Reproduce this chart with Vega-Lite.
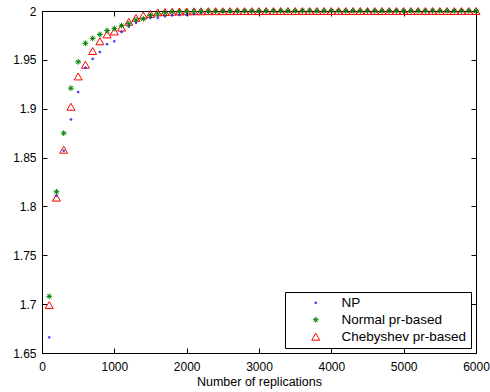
{
  "$schema": "https://vega.github.io/schema/vega-lite/v6.json",
  "width": 434,
  "height": 342,
  "autosize": {"type": "none"},
  "padding": {"left": 42, "top": 11, "right": 14, "bottom": 39},
  "background": "white",
  "config": {
    "font": "Liberation Sans",
    "view": {"stroke": "black", "strokeWidth": 1},
    "axis": {
      "grid": false,
      "domainColor": "black",
      "tickColor": "black",
      "tickSize": -5,
      "labelFlush": false,
      "labelColor": "black",
      "labelFont": "Liberation Sans",
      "labelFontSize": 12,
      "titleFont": "Liberation Sans",
      "titleFontSize": 12.5,
      "titleFontWeight": "normal",
      "titleColor": "black"
    }
  },
  "data": {"values": [
    {"n":100,"s":"NP","v":1.666},{"n":100,"s":"Normal pr-based","v":1.708},{"n":100,"s":"Chebyshev pr-based","v":1.699},
    {"n":200,"s":"NP","v":1.811},{"n":200,"s":"Normal pr-based","v":1.815},{"n":200,"s":"Chebyshev pr-based","v":1.809},
    {"n":300,"s":"NP","v":1.857},{"n":300,"s":"Normal pr-based","v":1.875},{"n":300,"s":"Chebyshev pr-based","v":1.858},
    {"n":400,"s":"NP","v":1.889},{"n":400,"s":"Normal pr-based","v":1.921},{"n":400,"s":"Chebyshev pr-based","v":1.902},
    {"n":500,"s":"NP","v":1.917},{"n":500,"s":"Normal pr-based","v":1.948},{"n":500,"s":"Chebyshev pr-based","v":1.933},
    {"n":600,"s":"NP","v":1.942},{"n":600,"s":"Normal pr-based","v":1.967},{"n":600,"s":"Chebyshev pr-based","v":1.945},
    {"n":700,"s":"NP","v":1.951},{"n":700,"s":"Normal pr-based","v":1.972},{"n":700,"s":"Chebyshev pr-based","v":1.959},
    {"n":800,"s":"NP","v":1.958},{"n":800,"s":"Normal pr-based","v":1.976},{"n":800,"s":"Chebyshev pr-based","v":1.969},
    {"n":900,"s":"NP","v":1.966},{"n":900,"s":"Normal pr-based","v":1.980},{"n":900,"s":"Chebyshev pr-based","v":1.976},
    {"n":1000,"s":"NP","v":1.969},{"n":1000,"s":"Normal pr-based","v":1.982},{"n":1000,"s":"Chebyshev pr-based","v":1.979},
    {"n":1100,"s":"NP","v":1.9785},{"n":1100,"s":"Normal pr-based","v":1.985},{"n":1100,"s":"Chebyshev pr-based","v":1.983},
    {"n":1200,"s":"NP","v":1.984},{"n":1200,"s":"Normal pr-based","v":1.987},{"n":1200,"s":"Chebyshev pr-based","v":1.989},
    {"n":1300,"s":"NP","v":1.988},{"n":1300,"s":"Normal pr-based","v":1.991},{"n":1300,"s":"Chebyshev pr-based","v":1.993},
    {"n":1400,"s":"NP","v":1.992},{"n":1400,"s":"Normal pr-based","v":1.992},{"n":1400,"s":"Chebyshev pr-based","v":1.9955},
    {"n":1500,"s":"NP","v":1.993},{"n":1500,"s":"Normal pr-based","v":1.9955},{"n":1500,"s":"Chebyshev pr-based","v":1.997},
    {"n":1600,"s":"NP","v":1.993},{"n":1600,"s":"Normal pr-based","v":1.997},{"n":1600,"s":"Chebyshev pr-based","v":1.9985},
    {"n":1700,"s":"NP","v":1.9945},{"n":1700,"s":"Normal pr-based","v":1.998},{"n":1700,"s":"Chebyshev pr-based","v":1.999},
    {"n":1800,"s":"NP","v":1.9955},{"n":1800,"s":"Normal pr-based","v":1.999},{"n":1800,"s":"Chebyshev pr-based","v":1.9993},
    {"n":1900,"s":"NP","v":1.996},{"n":1900,"s":"Normal pr-based","v":1.9992},{"n":1900,"s":"Chebyshev pr-based","v":1.9995},
    {"n":2000,"s":"NP","v":1.9962},{"n":2000,"s":"Normal pr-based","v":1.9994},{"n":2000,"s":"Chebyshev pr-based","v":1.9996},
    {"n":2100,"s":"NP","v":1.997},{"n":2100,"s":"Normal pr-based","v":1.9995},{"n":2100,"s":"Chebyshev pr-based","v":1.9997},
    {"n":2200,"s":"NP","v":1.998},{"n":2200,"s":"Normal pr-based","v":1.9996},{"n":2200,"s":"Chebyshev pr-based","v":1.9997},
    {"n":2300,"s":"NP","v":1.9985},{"n":2300,"s":"Normal pr-based","v":1.9997},{"n":2300,"s":"Chebyshev pr-based","v":1.9998},
    {"n":2400,"s":"NP","v":1.999},{"n":2400,"s":"Normal pr-based","v":1.9997},{"n":2400,"s":"Chebyshev pr-based","v":1.9998},
    {"n":2500,"s":"NP","v":1.9992},{"n":2500,"s":"Normal pr-based","v":1.9998},{"n":2500,"s":"Chebyshev pr-based","v":1.9998},
    {"n":2600,"s":"NP","v":1.9993},{"n":2600,"s":"Normal pr-based","v":1.9998},{"n":2600,"s":"Chebyshev pr-based","v":1.9999},
    {"n":2700,"s":"NP","v":1.9994},{"n":2700,"s":"Normal pr-based","v":1.9998},{"n":2700,"s":"Chebyshev pr-based","v":1.9999},
    {"n":2800,"s":"NP","v":1.9995},{"n":2800,"s":"Normal pr-based","v":1.9999},{"n":2800,"s":"Chebyshev pr-based","v":1.9999},
    {"n":2900,"s":"NP","v":1.9996},{"n":2900,"s":"Normal pr-based","v":1.9999},{"n":2900,"s":"Chebyshev pr-based","v":1.9999},
    {"n":3000,"s":"NP","v":1.9996},{"n":3000,"s":"Normal pr-based","v":1.9999},{"n":3000,"s":"Chebyshev pr-based","v":1.9999},
    {"n":3100,"s":"NP","v":1.9997},{"n":3100,"s":"Normal pr-based","v":1.9999},{"n":3100,"s":"Chebyshev pr-based","v":2.0},
    {"n":3200,"s":"NP","v":1.9997},{"n":3200,"s":"Normal pr-based","v":1.9999},{"n":3200,"s":"Chebyshev pr-based","v":2.0},
    {"n":3300,"s":"NP","v":1.9997},{"n":3300,"s":"Normal pr-based","v":2.0},{"n":3300,"s":"Chebyshev pr-based","v":2.0},
    {"n":3400,"s":"NP","v":1.9998},{"n":3400,"s":"Normal pr-based","v":2.0},{"n":3400,"s":"Chebyshev pr-based","v":2.0},
    {"n":3500,"s":"NP","v":1.9998},{"n":3500,"s":"Normal pr-based","v":2.0},{"n":3500,"s":"Chebyshev pr-based","v":2.0},
    {"n":3600,"s":"NP","v":1.9998},{"n":3600,"s":"Normal pr-based","v":2.0},{"n":3600,"s":"Chebyshev pr-based","v":2.0},
    {"n":3700,"s":"NP","v":1.9998},{"n":3700,"s":"Normal pr-based","v":2.0},{"n":3700,"s":"Chebyshev pr-based","v":2.0},
    {"n":3800,"s":"NP","v":1.9999},{"n":3800,"s":"Normal pr-based","v":2.0},{"n":3800,"s":"Chebyshev pr-based","v":2.0},
    {"n":3900,"s":"NP","v":1.9999},{"n":3900,"s":"Normal pr-based","v":2.0},{"n":3900,"s":"Chebyshev pr-based","v":2.0},
    {"n":4000,"s":"NP","v":1.9999},{"n":4000,"s":"Normal pr-based","v":2.0},{"n":4000,"s":"Chebyshev pr-based","v":2.0},
    {"n":4100,"s":"NP","v":1.9999},{"n":4100,"s":"Normal pr-based","v":2.0},{"n":4100,"s":"Chebyshev pr-based","v":2.0},
    {"n":4200,"s":"NP","v":1.9999},{"n":4200,"s":"Normal pr-based","v":2.0},{"n":4200,"s":"Chebyshev pr-based","v":2.0},
    {"n":4300,"s":"NP","v":1.9999},{"n":4300,"s":"Normal pr-based","v":2.0},{"n":4300,"s":"Chebyshev pr-based","v":2.0},
    {"n":4400,"s":"NP","v":1.9999},{"n":4400,"s":"Normal pr-based","v":2.0},{"n":4400,"s":"Chebyshev pr-based","v":2.0},
    {"n":4500,"s":"NP","v":2.0},{"n":4500,"s":"Normal pr-based","v":2.0},{"n":4500,"s":"Chebyshev pr-based","v":2.0},
    {"n":4600,"s":"NP","v":2.0},{"n":4600,"s":"Normal pr-based","v":2.0},{"n":4600,"s":"Chebyshev pr-based","v":2.0},
    {"n":4700,"s":"NP","v":2.0},{"n":4700,"s":"Normal pr-based","v":2.0},{"n":4700,"s":"Chebyshev pr-based","v":2.0},
    {"n":4800,"s":"NP","v":2.0},{"n":4800,"s":"Normal pr-based","v":2.0},{"n":4800,"s":"Chebyshev pr-based","v":2.0},
    {"n":4900,"s":"NP","v":2.0},{"n":4900,"s":"Normal pr-based","v":2.0},{"n":4900,"s":"Chebyshev pr-based","v":2.0},
    {"n":5000,"s":"NP","v":2.0},{"n":5000,"s":"Normal pr-based","v":2.0},{"n":5000,"s":"Chebyshev pr-based","v":2.0},
    {"n":5100,"s":"NP","v":2.0},{"n":5100,"s":"Normal pr-based","v":2.0},{"n":5100,"s":"Chebyshev pr-based","v":2.0},
    {"n":5200,"s":"NP","v":2.0},{"n":5200,"s":"Normal pr-based","v":2.0},{"n":5200,"s":"Chebyshev pr-based","v":2.0},
    {"n":5300,"s":"NP","v":2.0},{"n":5300,"s":"Normal pr-based","v":2.0},{"n":5300,"s":"Chebyshev pr-based","v":2.0},
    {"n":5400,"s":"NP","v":2.0},{"n":5400,"s":"Normal pr-based","v":2.0},{"n":5400,"s":"Chebyshev pr-based","v":2.0},
    {"n":5500,"s":"NP","v":2.0},{"n":5500,"s":"Normal pr-based","v":2.0},{"n":5500,"s":"Chebyshev pr-based","v":2.0},
    {"n":5600,"s":"NP","v":2.0},{"n":5600,"s":"Normal pr-based","v":2.0},{"n":5600,"s":"Chebyshev pr-based","v":2.0},
    {"n":5700,"s":"NP","v":2.0},{"n":5700,"s":"Normal pr-based","v":2.0},{"n":5700,"s":"Chebyshev pr-based","v":2.0},
    {"n":5800,"s":"NP","v":2.0},{"n":5800,"s":"Normal pr-based","v":2.0},{"n":5800,"s":"Chebyshev pr-based","v":2.0},
    {"n":5900,"s":"NP","v":2.0},{"n":5900,"s":"Normal pr-based","v":2.0},{"n":5900,"s":"Chebyshev pr-based","v":2.0},
    {"n":6000,"s":"NP","v":2.0},{"n":6000,"s":"Normal pr-based","v":2.0},{"n":6000,"s":"Chebyshev pr-based","v":2.0}
  ]},
  "layer": [
    {
      "mark": {"type": "point", "opacity": 0},
      "encoding": {
        "x": {"field": "n", "type": "quantitative", "scale": {"domain": [0, 6000], "nice": false, "zero": false},
              "axis": {"orient": "top", "labels": false, "title": null, "values": [0,1000,2000,3000,4000,5000,6000]}},
        "y": {"field": "v", "type": "quantitative", "scale": {"domain": [1.65, 2], "nice": false, "zero": false},
              "axis": {"orient": "right", "labels": false, "title": null, "values": [1.65,1.7,1.75,1.8,1.85,1.9,1.95,2]}}
      }
    },
    {
      "mark": {"type": "point", "filled": false, "strokeWidth": 1, "opacity": 1},
      "encoding": {
        "x": {"field": "n", "type": "quantitative", "scale": {"domain": [0, 6000], "nice": false, "zero": false},
              "axis": {"orient": "bottom", "title": "Number of replications", "format": "d", "labelPadding": 13, "titlePadding": 3,
                       "values": [0,1000,2000,3000,4000,5000,6000]}},
        "y": {"field": "v", "type": "quantitative", "scale": {"domain": [1.65, 2], "nice": false, "zero": false},
              "axis": {"orient": "left", "title": null, "format": "~g", "labelPadding": 11,
                       "values": [1.65,1.7,1.75,1.8,1.85,1.9,1.95,2]}},
        "color": {"field": "s", "type": "nominal",
                  "scale": {"domain": ["NP", "Normal pr-based", "Chebyshev pr-based"], "range": ["#0000ff", "#008000", "#ff0000"]},
                  "legend": {"title": null, "orient": "bottom-right", "offset": 5, "strokeColor": "black", "fillColor": "white",
                             "padding": 4, "cornerRadius": 0, "labelFont": "Liberation Sans", "labelFontSize": 13.5, "labelColor": "black",
                             "symbolOffset": 20, "labelOffset": 19, "rowPadding": 2, "symbolStrokeWidth": 1}},
        "shape": {"field": "s", "type": "nominal",
                  "scale": {"domain": ["NP", "Normal pr-based", "Chebyshev pr-based"],
                            "range": ["circle", "M-1,0L1,0M0,-1L0,1M-0.7,-0.7L0.7,0.7M-0.7,0.7L0.7,-0.7", "triangle-up"]}},
        "size": {"field": "s", "type": "nominal",
                 "scale": {"domain": ["NP", "Normal pr-based", "Chebyshev pr-based"], "range": [3, 64, 90]}},
        "order": {"field": "s", "type": "nominal"}
      }
    }
  ],
  "resolve": {"axis": {"x": "independent", "y": "independent"}}
}
